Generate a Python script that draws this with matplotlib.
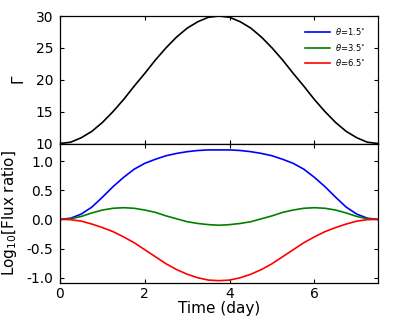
import matplotlib
matplotlib.use("Agg")
import matplotlib.pyplot as plt

# time grid (days)
t = [0.0, 0.25, 0.5, 0.75, 1.0, 1.25, 1.5, 1.75, 2.0, 2.25, 2.5, 2.75, 3.0, 3.25, 3.5, 3.75,
     4.0, 4.25, 4.5, 4.75, 5.0, 5.25, 5.5, 5.75, 6.0, 6.25, 6.5, 6.75, 7.0, 7.25, 7.5]

gamma = [10.0, 10.2, 10.9, 11.9, 13.3, 15.0, 16.9, 19.0, 21.0, 23.1, 25.0, 26.7, 28.1, 29.1, 29.8, 30.0,
         29.8, 29.1, 28.1, 26.7, 25.0, 23.1, 21.0, 19.0, 16.9, 15.0, 13.3, 11.9, 10.9, 10.2, 10.0]

flux_15 = [0.0, 0.02, 0.09, 0.21, 0.38, 0.56, 0.72, 0.86, 0.96, 1.03, 1.09, 1.13, 1.16, 1.18, 1.19, 1.19,
           1.19, 1.18, 1.16, 1.13, 1.09, 1.03, 0.96, 0.86, 0.72, 0.56, 0.38, 0.21, 0.09, 0.02, 0.0]

flux_35 = [0.0, 0.01, 0.05, 0.11, 0.16, 0.19, 0.20, 0.19, 0.16, 0.12, 0.06, 0.01, -0.04, -0.07, -0.09, -0.10,
           -0.09, -0.07, -0.04, 0.01, 0.06, 0.12, 0.16, 0.19, 0.20, 0.19, 0.16, 0.11, 0.05, 0.01, 0.0]

flux_65 = [0.0, -0.005, -0.03, -0.08, -0.14, -0.21, -0.30, -0.40, -0.52, -0.64, -0.76, -0.86, -0.94, -1.00, -1.04, -1.05,
           -1.04, -1.00, -0.94, -0.86, -0.76, -0.64, -0.52, -0.40, -0.30, -0.21, -0.14, -0.08, -0.03, -0.005, 0.0]

labels = [r'$\theta$=1.5$^{\circ}$', r'$\theta$=3.5$^{\circ}$', r'$\theta$=6.5$^{\circ}$']
colors = ['#0000ff', '#008000', '#ff0000']

xticks = [0, 2, 4, 6]
gamma_ticks = [10, 15, 20, 25, 30]
flux_ticks = [-1.0, -0.5, 0.0, 0.5, 1.0]

fig = plt.figure(figsize=(3.98, 3.19), dpi=100)
ax1 = fig.add_axes([60/398, 1-143.5/319, 318/398, 127.5/319])
ax2 = fig.add_axes([60/398, 1-283/319, 318/398, 139.5/319])

ax1.plot(t, gamma, color='black', lw=1.2)
lines = []
for y, c, lab in zip([flux_15, flux_35, flux_65], colors, labels):
    l, = ax2.plot(t, y, color=c, lw=1.2, label=lab)
    lines.append(l)

for ax in (ax1, ax2):
    ax.set_xlim(0, 7.5)
    ax.set_xticks(xticks)
    ax.tick_params(direction='in', top=True, right=True, length=3, width=0.8,
                   labelsize=10, pad=5)
    ax.tick_params(axis='x', pad=3)
    for s in ax.spines.values():
        s.set_linewidth(0.9)

ax1.set_ylim(10, 30)
ax1.set_yticks(gamma_ticks)
ax1.tick_params(labelbottom=False)
ax1.set_ylabel(r'$\Gamma$', fontsize=11, labelpad=6)

ax2.set_ylim(-1.09, 1.30)
ax2.set_yticks(flux_ticks)
ax2.set_yticklabels(['-1.0', '-0.5', '0.0', '0.5', '1.0'])
ax2.set_ylabel(r'Log$_{10}$[Flux ratio]', fontsize=11, labelpad=5)
ax2.set_xlabel('Time (day)', fontsize=11, labelpad=0)

ax1.legend(handles=lines, loc='upper right', frameon=False, fontsize=6,
           handlelength=3.0, labelspacing=0.55, borderaxespad=0.5,
           handletextpad=0.6, bbox_to_anchor=(0.985, 0.98))

fig.savefig('out.png', dpi=100)
